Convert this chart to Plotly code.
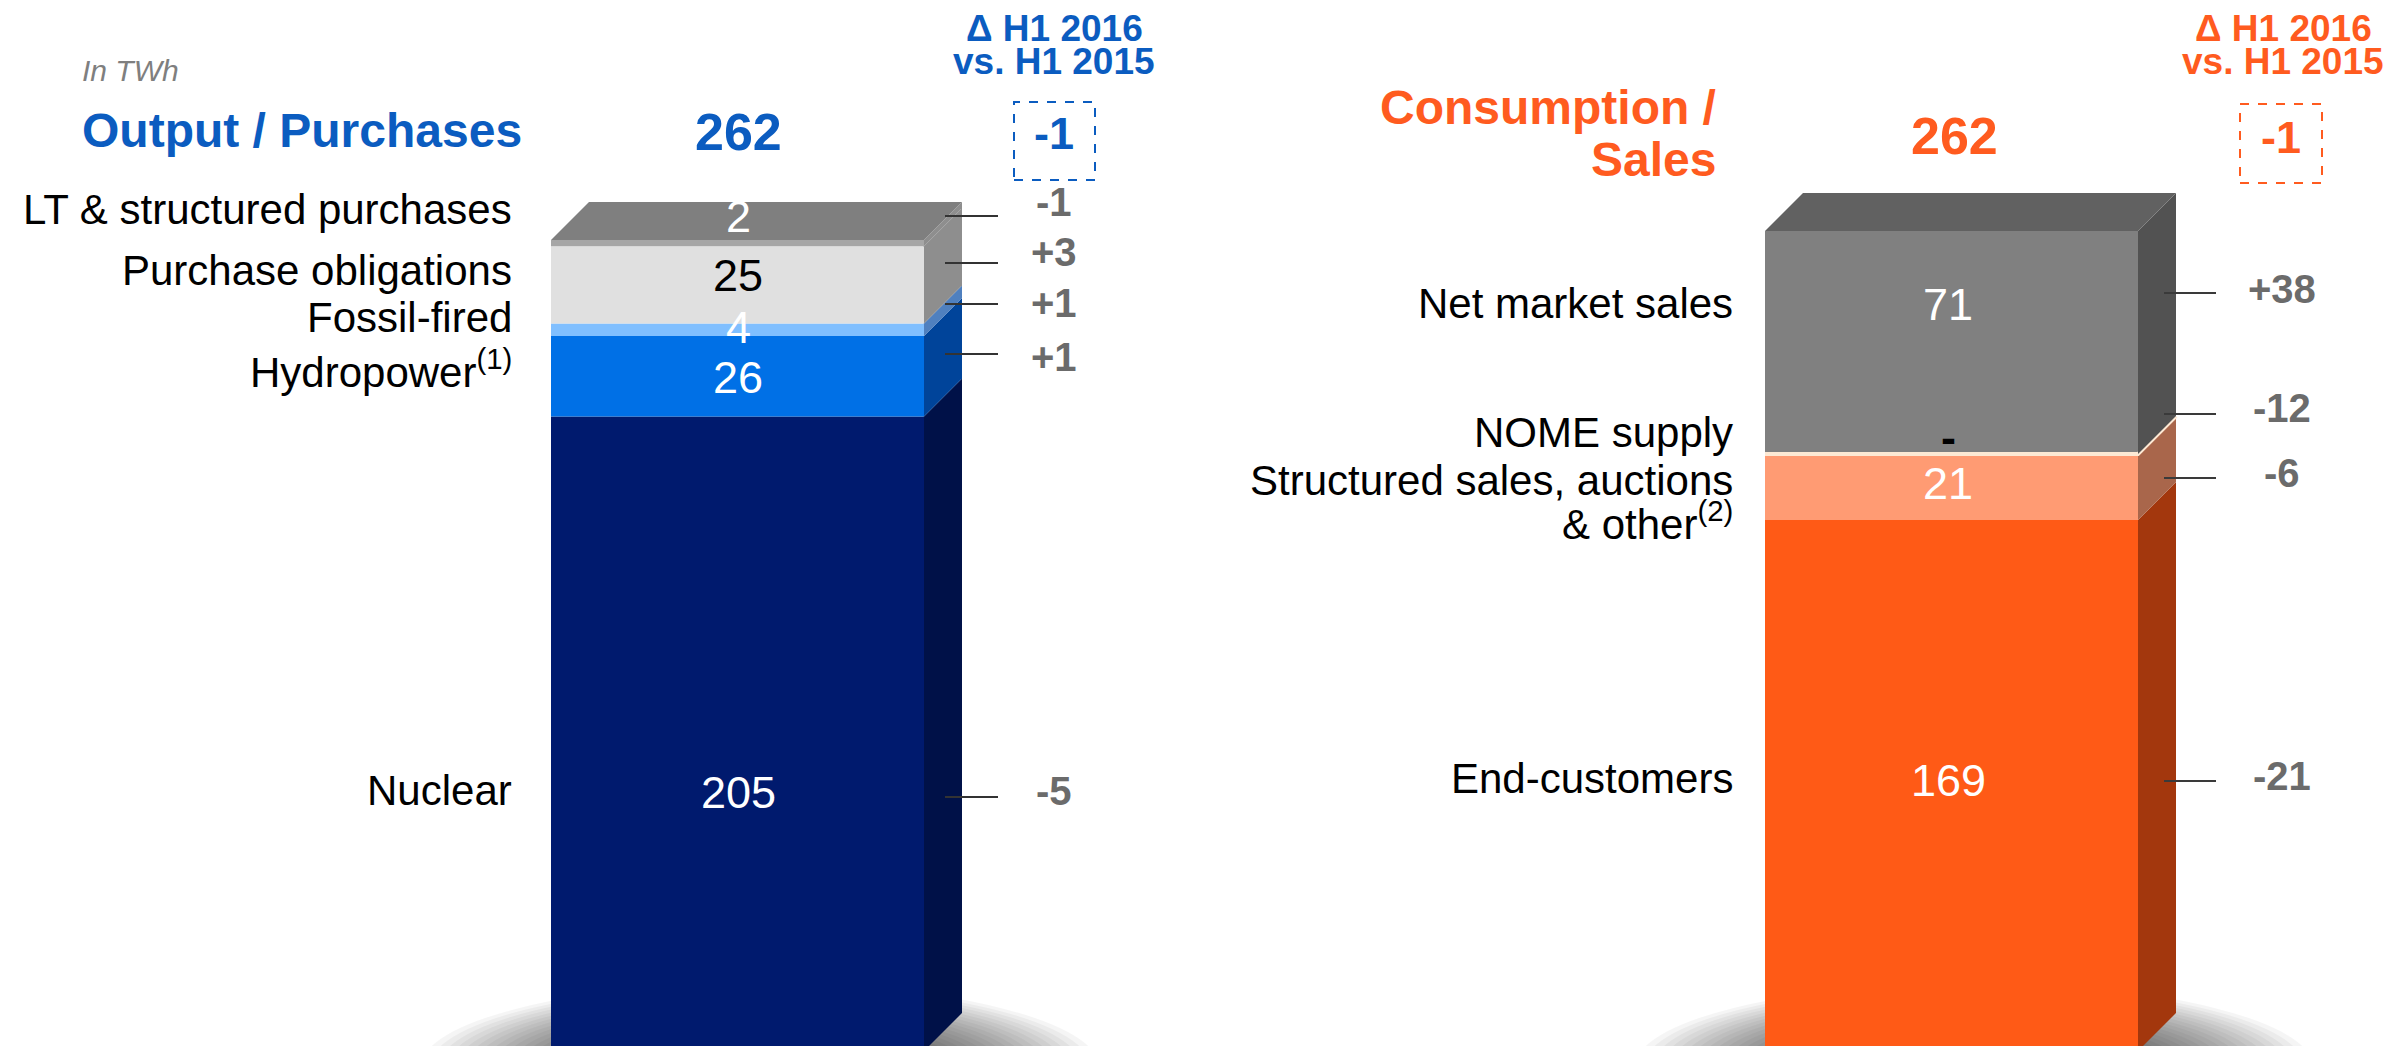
import plotly.graph_objects as go

# ---- data (TWh, H1 2016) ----
out_labels = ["Nuclear", "Hydropower<sup>(1)</sup>", "Fossil-fired",
              "Purchase obligations", "LT & structured purchases"]
out_values = [205, 26, 4, 25, 2]
out_deltas = ["-5", "+1", "+1", "+3", "-1"]
out_total = 262
out_total_delta = "-1"

sales_labels = ["End-customers", "Structured sales, auctions<br>& other<sup>(2)</sup>",
                "NOME supply", "Net market sales"]
sales_values = [169, 21, 0, 71]
sales_deltas = ["-21", "-6", "-12", "+38"]
sales_total = 262
sales_total_delta = "-1"

# ---- styles / layout (pixels) ----
W, H = 2397, 1046
FONT = "Liberation Sans"
BLUE = "#0b5cc0"
ORANGE = "#ff5b1f"
GREY_TXT = "#6b6b6b"

out_front = ["#001a6e", "#0070e6", "#80bfff", "#e0e0e0", "#a6a6a6"]
out_side = ["#001148", "#00449a", "#4f80bf", "#8e8e8e", "#8e8e8e"]
out_val_color = ["white", "white", "white", "black", "white"]

sales_front = ["#ff5a16", "#ff9b73", "#fde9d4", "#808080"]
sales_side = ["#a3370d", "#a9664b", "#ead6c2", "#525252"]
sales_val_color = ["white", "white", "black", "white"]

BOTTOM = 1043
DX, DY = 38, 38
left_bar = dict(x0=543, x1=916, top=232, top_col="#7f7f7f", yaxis="y")
right_bar = dict(x0=1757, x1=2130, top=223, top_col="#616161", yaxis="y2")

out_label_y = [790, 368, 317, 270, 209]
out_value_y = [792, 377, 327, 275, 216]
out_delta_y = [790, 356, 302, 251, 201]
out_line_y = [789, 346, 296, 255, 208]

sales_label_y = [778, (480, 520), 432, 303]
sales_value_y = [780, 483, 437, 304]
sales_delta_y = [775, 472, 407, 288]
sales_line_y = [773, 470, 406, 285]


def py(p):
    return 1 - p / H


fig = go.Figure()


def add_stack(values, front, side, bar):
    total = sum(values)
    k = (BOTTOM - bar["top"]) / total
    dy = DY / k
    x0, x1 = bar["x0"], bar["x1"]
    cx, w = (x0 + x1) / 2, x1 - x0
    bases = [sum(values[:i]) for i in range(len(values))]
    fig.add_trace(go.Bar(
        x=[cx] * len(values), y=values, base=bases, width=w,
        marker=dict(color=front, line=dict(width=0)),
        yaxis=bar["yaxis"], hoverinfo="skip"))
    for b, v, fc, sc in zip(bases, values, front, side):
        if v == 0:
            fig.add_trace(go.Scatter(
                x=[x0, x1, x1 + DX], y=[b, b, b + dy], mode="lines",
                line=dict(color=fc, width=4), yaxis=bar["yaxis"], hoverinfo="skip"))
            continue
        fig.add_trace(go.Scatter(
            x=[x1, x1 + DX, x1 + DX, x1, x1], y=[b, b + dy, b + v + dy, b + v, b],
            fill="toself", fillcolor=sc, mode="lines", line=dict(width=0, color=sc),
            yaxis=bar["yaxis"], hoverinfo="skip"))
    fig.add_trace(go.Scatter(
        x=[x0, x0 + DX, x1 + DX, x1, x0], y=[total, total + dy, total + dy, total, total],
        fill="toself", fillcolor=bar["top_col"], mode="lines",
        line=dict(width=0, color=bar["top_col"]), yaxis=bar["yaxis"], hoverinfo="skip"))
    return [-(H - BOTTOM) / k, BOTTOM / k]


range_left = add_stack(out_values, out_front, out_side, left_bar)
range_right = add_stack(sales_values, sales_front, sales_side, right_bar)


def text(x, y, t, size, color, anchor="center", bold=False, italic=False):
    if bold:
        t = "<b>" + t + "</b>"
    if italic:
        t = "<i>" + t + "</i>"
    # y is the cap-centre in pixels; plotly centres the full text box, so lift a bit
    fig.add_annotation(x=x, y=py(y - 0.17 * size), xref="x", yref="paper", text=t,
                       showarrow=False, xanchor=anchor, yanchor="middle",
                       font=dict(family=FONT, size=size, color=color))


def line(x0, x1, y, color="#333333"):
    fig.add_shape(type="line", xref="x", yref="paper", x0=x0, x1=x1, y0=py(y), y1=py(y),
                  line=dict(color=color, width=2))


def shadow(cx, cy, rx, ry):
    # soft blurred floor shadow: stacked translucent ellipses
    n = 24
    for i in range(n):
        f = 1 - i * 0.026
        fig.add_shape(type="circle", xref="x", yref="paper", layer="below",
                      x0=cx - rx * f, x1=cx + rx * f, y0=py(cy + ry * f), y1=py(cy - ry * f),
                      fillcolor="rgba(0,0,0,0.04)", line=dict(width=0))


shadow(752, 1060, 340, 85)
shadow(1966, 1060, 340, 85)

# ---- left panel text ----
text(72, 68, "In TWh", 30, "#7f7f7f", anchor="left", italic=True)
text(72, 131, "Output / Purchases", 48, BLUE, anchor="left", bold=True)
text(730, 133, str(out_total), 52, BLUE, bold=True)
text(1046, 27, "Δ H1 2016", 37, BLUE, bold=True)
text(1046, 60, "vs. H1 2015", 37, BLUE, bold=True)
fig.add_shape(type="rect", xref="x", yref="paper", x0=1006, x1=1087, y0=py(172), y1=py(94),
              line=dict(color=BLUE, width=2, dash="dash"))
text(1046, 133, out_total_delta, 45, BLUE, bold=True)

for lab, v, d, ly, vy, dyy, lny, vc in zip(out_labels, out_values, out_deltas, out_label_y,
                                           out_value_y, out_delta_y, out_line_y, out_val_color):
    text(506, ly, lab, 42, "black", anchor="right")
    text(730, vy, str(v), 45, vc)
    text(1046, dyy, d, 40, GREY_TXT, bold=True)
    line(937, 990, lny)

# ---- right panel text ----
text(1710, 108, "Consumption /", 48, ORANGE, anchor="right", bold=True)
text(1710, 160, "Sales", 48, ORANGE, anchor="right", bold=True)
text(1946, 137, str(sales_total), 52, ORANGE, bold=True)
text(2275, 27, "Δ H1 2016", 37, ORANGE, bold=True)
text(2275, 60, "vs. H1 2015", 37, ORANGE, bold=True)
fig.add_shape(type="rect", xref="x", yref="paper", x0=2232, x1=2314, y0=py(175), y1=py(96),
              line=dict(color=ORANGE, width=2, dash="dash"))
text(2273, 137, sales_total_delta, 45, ORANGE, bold=True)

for lab, v, d, ly, vy, dyy, lny, vc in zip(sales_labels, sales_values, sales_deltas, sales_label_y,
                                           sales_value_y, sales_delta_y, sales_line_y, sales_val_color):
    parts = lab.split("<br>")
    ys = ly if isinstance(ly, tuple) else (ly,)
    for p, yy in zip(parts, ys):
        text(1727, yy, p, 42, "black", anchor="right")
    if v:
        text(1940, vy, str(v), 45, vc)
    else:
        text(1940, vy, "-", 45, "black", bold=True)
    text(2274, dyy, d, 40, GREY_TXT, bold=True)
    line(2156, 2208, lny, "#3a3a3a")

fig.update_layout(
    width=W, height=H, margin=dict(l=0, r=0, t=0, b=0),
    barmode="overlay", showlegend=False,
    plot_bgcolor="white", paper_bgcolor="white",
    xaxis=dict(range=[0, W], type="linear", visible=False, fixedrange=True),
    yaxis=dict(range=range_left, visible=False, fixedrange=True),
    yaxis2=dict(range=range_right, overlaying="y", visible=False, fixedrange=True),
)

fig.write_html("out.html")
